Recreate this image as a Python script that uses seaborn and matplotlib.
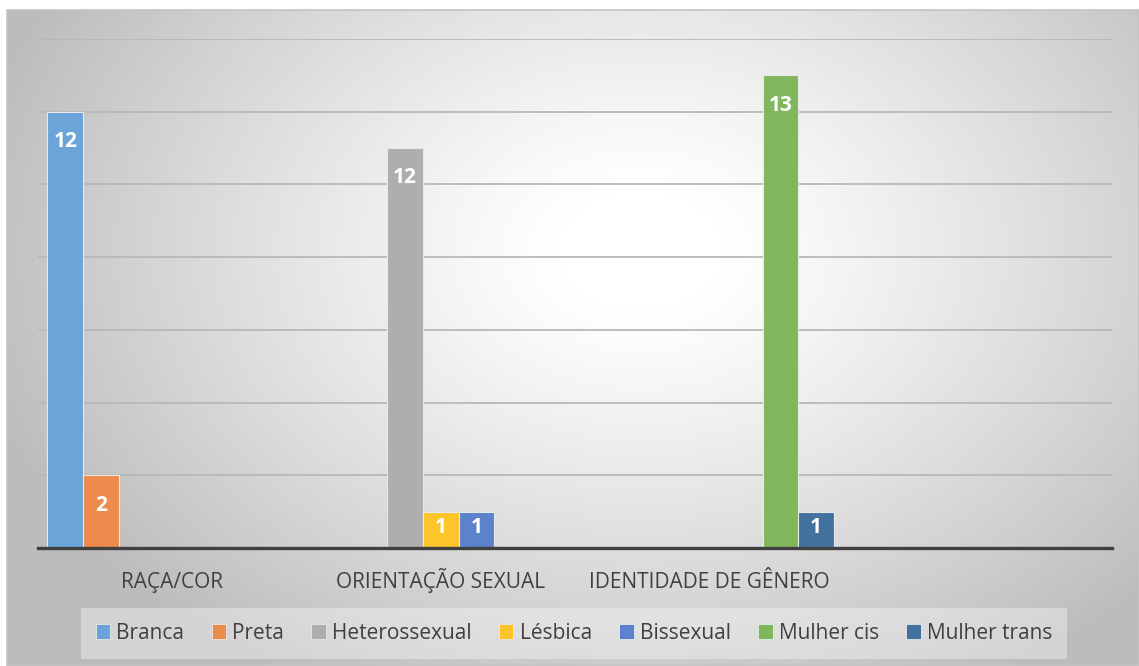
import numpy as np
import pandas as pd
import matplotlib
matplotlib.use("Agg")
import matplotlib.pyplot as plt
import seaborn as sns
from matplotlib.patches import Rectangle

# ---- data ----
categories = ["RAÇA/COR", "ORIENTAÇÃO SEXUAL", "IDENTIDADE DE GÊNERO", ""]
series = ["Branca", "Preta", "Heterossexual", "Lésbica", "Bissexual", "Mulher cis", "Mulher trans"]
series_category = ["RAÇA/COR", "RAÇA/COR", "ORIENTAÇÃO SEXUAL", "ORIENTAÇÃO SEXUAL",
                   "ORIENTAÇÃO SEXUAL", "IDENTIDADE DE GÊNERO", "IDENTIDADE DE GÊNERO"]
values = [12, 2, 11, 1, 1, 13, 1]
value_labels = ["12", "2", "12", "1", "1", "13", "1"]
colors = ["#6ba4d8", "#ec8b4b", "#aeaeae", "#fec52a", "#5c82cc", "#80b75c", "#44729f"]

df = pd.DataFrame({"categoria": series_category, "serie": series, "valor": values})

sns.set_theme(style="white")
plt.rcParams["font.family"] = ["Open Sans", "DejaVu Sans"]

W, H = 1139, 666
fig = plt.figure(figsize=(W / 100, H / 100), dpi=100)
fig.patch.set_facecolor("white")

# background gradient (chart area)
bg = fig.add_axes([0, 0, 1, 1], zorder=0)
yy, xx = np.mgrid[0:H, 0:W]
cx, cy = 640, 250
d = np.sqrt(((xx - cx) / 680.0) ** 2 + ((yy - cy) / 500.0) ** 2)
d = np.clip((d - 0.12) / 0.88, 0, 1)
g = 1.0 - 0.26 * d ** 1.15
img = np.dstack([g, g, g])
bg.imshow(img, extent=[0, W, H, 0], aspect="auto", interpolation="bilinear")
bg.add_patch(Rectangle((0, 0), W, 10, facecolor="white", edgecolor="none", zorder=2))
bg.add_patch(Rectangle((0, 0), 7, H, facecolor="white", edgecolor="none", zorder=2))
bg.add_patch(Rectangle((7, 10), W - 7, H - 10, facecolor="none", edgecolor="#c4c4c4", lw=1.2, zorder=3))
bg.set_xlim(0, W)
bg.set_ylim(H, 0)
bg.axis("off")

# main axes
x0, x1 = 38, 1112
y_top, y_bot = 39, 548
ax = fig.add_axes([x0 / W, 1 - y_bot / H, (x1 - x0) / W, (y_bot - y_top) / H], zorder=1)
ax.patch.set_alpha(0)

sns.barplot(data=df, x="categoria", y="valor", hue="serie", order=categories,
            hue_order=series, palette=colors, saturation=1, width=0.93, dodge=True,
            edgecolor="#e8e8e8", linewidth=0.8, legend=False, ax=ax, zorder=3)

for cont, lab in zip(ax.containers, value_labels):
    short = all(b.get_height() < 1.5 for b in cont)
    ax.bar_label(cont, labels=[lab] * len(cont), padding=-19 if short else -29,
                 color="white", fontsize=15, fontweight="bold", zorder=5)

ax.set_xlim(-0.5, 3.5)
ax.set_ylim(0, 14)
ax.set_yticks(np.arange(0, 15, 2))
ax.yaxis.grid(True, color="#b8b8b8", lw=1.3, zorder=0)
ax.set_axisbelow(True)
ax.set_yticklabels([])
ax.tick_params(axis="y", length=0)
ax.tick_params(axis="x", length=0, pad=28.5, labelsize=15, labelcolor="#404040")
for t in ax.get_xticklabels():
    t.set_verticalalignment("baseline")
ax.set_xlabel("")
ax.set_ylabel("")
for s in ["top", "right", "left"]:
    ax.spines[s].set_visible(False)
ax.spines["bottom"].set_color("#404040")
ax.spines["bottom"].set_linewidth(2.4)
ax.spines["bottom"].set_zorder(6)

# legend
handles = [Rectangle((0, 0), 1, 1, facecolor=c, edgecolor="#e8e8e8", lw=0.6) for c in colors]
leg = fig.legend(handles, series, loc="center", ncol=7,
                 bbox_to_anchor=(574 / W, 1 - 633.5 / H), frameon=True, fancybox=False,
                 fontsize=15, handlelength=0.7, handleheight=0.7, handletextpad=0.3,
                 columnspacing=1.3, borderpad=0.7, labelcolor="#404040")
leg.get_frame().set_facecolor("white")
leg.get_frame().set_alpha(0.35)
leg.get_frame().set_edgecolor("none")
leg.set_zorder(10)

fig.savefig("out.png", dpi=100)
